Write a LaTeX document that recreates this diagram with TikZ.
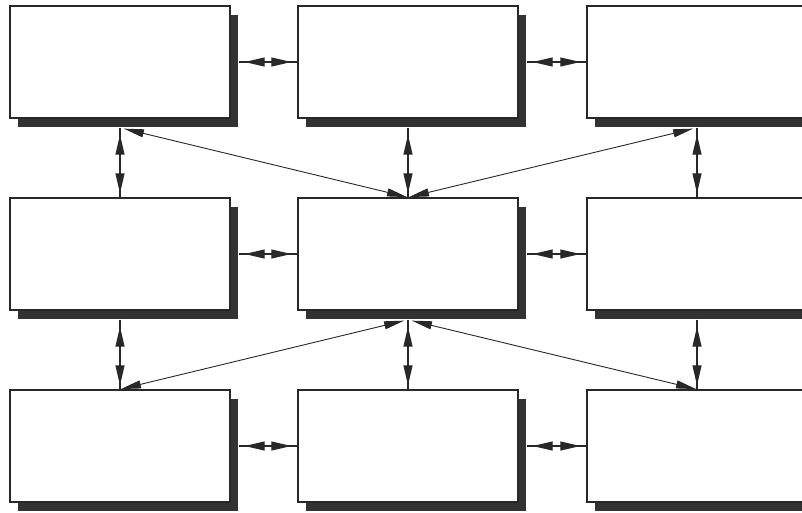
\documentclass[tikz,border=0pt]{standalone}
\usetikzlibrary{arrows.meta,shadows}
\definecolor{shad}{RGB}{50,50,50}
\definecolor{ink}{RGB}{40,40,40}
\begin{document}
\begin{tikzpicture}[x=1pt,y=-1pt,
  blk/.style={draw=ink,line width=1.4pt,fill=white,minimum width=220pt,minimum height=112pt,inner sep=0pt,
    drop shadow={shadow xshift=8pt,shadow yshift=-9pt,fill=shad,opacity=1}},
  wire/.style={draw=ink,line width=1.1pt},
  biarrow/.style={wire,{Triangle[length=20pt,width=9pt]}-{Triangle[length=20pt,width=9pt]}},
  diag/.style={draw=ink,line width=0.9pt,{Triangle[length=20pt,width=8pt]}-{Triangle[length=20pt,width=8pt]}}]
\clip (0,0) rectangle (802,512);
\fill[white] (0,0) rectangle (802,512);
% boxes
\node[blk] (a1) at (120,62) {};
\node[blk] (a2) at (408,62) {};
\node[blk] (a3) at (697,62) {};
\node[blk] (b1) at (120,254) {};
\node[blk] (b2) at (408,254) {};
\node[blk] (b3) at (697,254) {};
\node[blk] (c1) at (120,446) {};
\node[blk] (c2) at (408,446) {};
\node[blk] (c3) at (697,446) {};
% horizontal connectors
\foreach \p/\q in {a1/a2,a2/a3,b1/b2,b2/b3,c1/c2,c2/c3}{
  \draw[wire] ([xshift=8pt]\p.east) -- (\q.west);
  \draw[biarrow,shorten <=6pt,shorten >=6pt] ([xshift=8pt]\p.east) -- (\q.west);
}
% vertical connectors
\foreach \p/\q in {a1/b1,a2/b2,a3/b3,b1/c1,b2/c2,b3/c3}{
  \draw[wire] ([yshift=-9pt]\p.south) -- (\q.north);
  \draw[biarrow,shorten <=7pt,shorten >=4pt] ([yshift=-9pt]\p.south) -- (\q.north);
}
% diagonal connectors
\draw[diag,shorten <=4pt,shorten >=1pt] ([yshift=-9pt]a1.south) -- (b2.north);
\draw[diag,shorten <=4pt,shorten >=1pt] ([yshift=-9pt]a3.south) -- (b2.north);
\draw[diag,shorten <=4pt,shorten >=1pt] ([yshift=-9pt]b2.south) -- (c1.north);
\draw[diag,shorten <=4pt,shorten >=1pt] ([yshift=-9pt]b2.south) -- (c3.north);
\end{tikzpicture}
\end{document}
